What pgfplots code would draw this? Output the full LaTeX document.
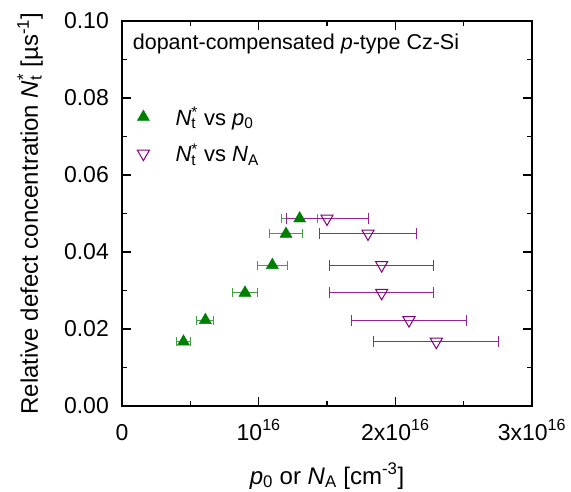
\documentclass[border=0pt]{standalone}
\usepackage{fontspec}
\setmainfont{Liberation Sans}
\usepackage{pgfplots}
\pgfplotsset{compat=1.18}
\definecolor{dgreen}{HTML}{008000}
\definecolor{dpurple}{HTML}{800080}
\newcommand{\Nt}{\textit{N}\rlap{\textsubscript{t}}\textsuperscript{*}}
\begin{document}
\begin{tikzpicture}
\begin{axis}[
  name=ax,
  scale only axis,
  width=410pt, height=385pt,
  xmin=0, xmax=3, ymin=0, ymax=0.10,
  xtick={0,1,2,3},
  xticklabels={0, 10\textsuperscript{16}, 2x10\textsuperscript{16}, 3x10\textsuperscript{16}},
  ytick={0,0.02,0.04,0.06,0.08,0.10},
  minor x tick num=1, minor y tick num=1,
  tick align=inside,
  major tick length=9pt, minor tick length=5pt,
  axis line style={line width=1.6pt},
  every tick/.style={black, line width=1.2pt},
  yticklabel style={/pgf/number format/fixed, /pgf/number format/fixed zerofill,
    /pgf/number format/precision=2, /pgf/number format/assume math mode=true,
    anchor=east, inner sep=0pt, xshift=-13pt},
  xticklabel style={anchor=base, inner sep=0pt, yshift=-34pt},
  tick label style={font=\fontsize{23}{27}\selectfont},
  label style={font=\fontsize{24}{28}\selectfont},
  xlabel={\textit{p}\textsubscript{0} or \textit{N}\textsubscript{A} [cm\textsuperscript{-3}]},
  ylabel={Relative defect concentration \Nt{} [µs\textsuperscript{-1}]},
  xlabel style={at={(axis description cs:0.5,-0.2026)}, anchor=base, inner sep=0pt},
  ylabel style={at={(axis description cs:-0.224,0.5)}, anchor=center},
  legend cell align=left,
  legend style={at={(axis description cs:0.0,0.787)}, anchor=north west, draw=none, fill=none,
    font=\fontsize{22}{26}\selectfont, row sep=13pt},
  legend image code/.code={\path (0pt,0pt) (48pt,0pt); \draw[#1] plot coordinates {(18pt,0pt)};},
]
\addplot[only marks, mark=triangle*, mark size=7pt, color=dgreen,
  error bars/.cd, x dir=both, x explicit,
  error bar style={color=dgreen!75!white, line width=0.9pt},
  error mark options={rotate=90, mark size=4.5pt, color=dgreen!75!white, line width=0.9pt}]
  coordinates {
    (0.45,0.0167) +- (0.050,0)
    (0.61,0.0223) +- (0.062,0)
    (0.90,0.0294) +- (0.090,0)
    (1.10,0.0366) +- (0.110,0)
    (1.20,0.0447) +- (0.120,0)
    (1.30,0.0487) +- (0.130,0)
  };
\addlegendentry{\Nt{} vs \textit{p}\textsubscript{0}}
\addplot[only marks, mark=triangle, mark size=7pt, mark options={rotate=180, line width=1pt}, color=dpurple,
  error bars/.cd, x dir=both, x explicit,
  error bar style={color=dpurple!85!white, line width=0.9pt},
  error mark options={rotate=90, mark size=5.5pt, color=dpurple!85!white, line width=0.9pt}]
  coordinates {
    (1.50,0.0487) +- (0.300,0)
    (1.80,0.0448) +- (0.357,0)
    (1.90,0.0366) +- (0.379,0)
    (1.90,0.0294) +- (0.379,0)
    (2.10,0.0223) +- (0.420,0)
    (2.30,0.0167) +- (0.458,0)
  };
\addlegendentry{\Nt{} vs \textit{N}\textsubscript{A}}
\node[anchor=base west, inner sep=0pt, font=\fontsize{21.5}{25}\selectfont] at (rel axis cs:0.026,0.9247) {dopant-compensated \textit{p}-type Cz-Si};
\end{axis}
\pgfresetboundingbox
\path (ax.south west) ++(-122pt,-85pt) rectangle ++(571pt,491pt);
\end{tikzpicture}
\end{document}
